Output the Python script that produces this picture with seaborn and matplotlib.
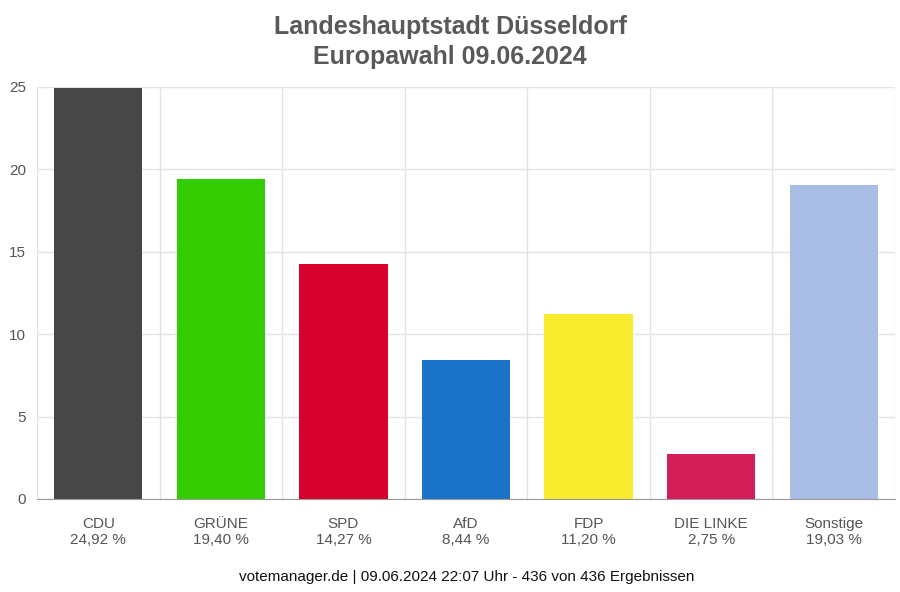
import matplotlib
matplotlib.use('Agg')
import matplotlib.pyplot as plt
import numpy as np
import pandas as pd
import seaborn as sns

# --- Data ---
parties = ['CDU', 'GRÜNE', 'SPD', 'AfD', 'FDP', 'DIE LINKE', 'Sonstige']
shares = [24.92, 19.40, 14.27, 8.44, 11.20, 2.75, 19.03]
colors = ['#474747', '#33cc00', '#d7002c', '#1a72c9', '#f9eb2e', '#d21d58', '#aabde4']

title = 'Landeshauptstadt Düsseldorf\nEuropawahl 09.06.2024'
footer = 'votemanager.de | 09.06.2024 22:07 Uhr - 436 von 436 Ergebnissen'

df = pd.DataFrame({'party': parties, 'share': shares})

sns.set_style('white')
plt.rcParams['font.family'] = ['Liberation Sans', 'DejaVu Sans']

fig = plt.figure(figsize=(9, 5.92), dpi=100)
ax = fig.add_axes([37 / 900, 93 / 592, 858 / 900, 412 / 592])

sns.barplot(data=df, x='party', y='share', hue='party', palette=colors,
            width=0.72, saturation=1, legend=False, linewidth=0, ax=ax, zorder=3)

ax.set_xlim(-0.5, len(parties) - 0.5)
ax.set_ylim(0, 25)
ax.set_yticks(np.arange(0, 26, 5))

# category labels with percentages
labels = [f"{p}\n{s:.2f}".replace('.', ',') + ' %' for p, s in zip(parties, shares)]
ax.set_xticks(range(len(parties)))
ax.set_xticklabels(labels, fontsize=11, color='#555555', linespacing=1.15)
ax.tick_params(axis='x', which='major', length=0, pad=13)
ax.set_xticks(np.arange(-0.5, len(parties), 1), minor=True)
ax.tick_params(axis='x', which='minor', length=8, color='#bbbbbb', width=1)
ax.tick_params(axis='y', length=5, color='#cccccc', width=1, labelsize=11,
               labelcolor='#555555', pad=3)

ax.grid(True, axis='y', color='#e3e3e3', linewidth=1, zorder=0)
ax.grid(True, axis='x', which='minor', color='#e3e3e3', linewidth=1, zorder=0)
ax.set_axisbelow(True)

for side in ['top', 'right', 'left']:
    ax.spines[side].set_visible(False)
ax.spines['bottom'].set_color('#999999')
ax.spines['bottom'].set_zorder(4)

ax.set_xlabel('')
ax.set_ylabel('')

fig.text(0.5, 1 - 42 / 592, title, ha='center', va='center', fontsize=18, fontweight='bold',
         color='#595959', linespacing=1.3)
fig.text(467 / 900, 1 - 577 / 592, footer, ha='center', va='center', fontsize=11, color='#111111')

fig.savefig('out.png', dpi=100)
